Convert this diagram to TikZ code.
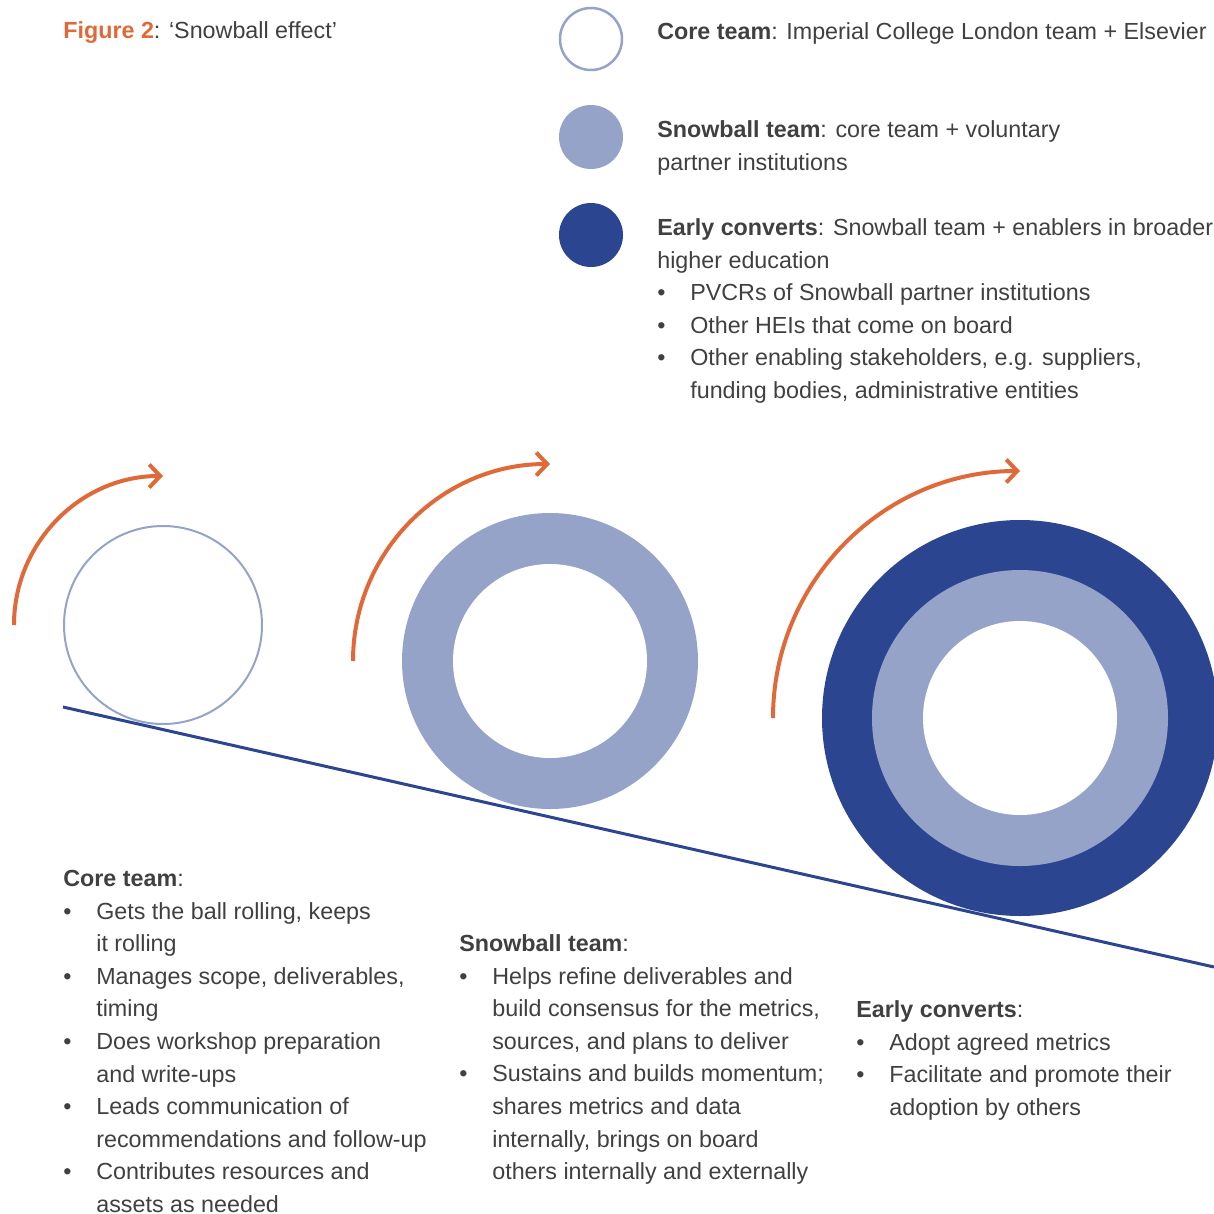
\documentclass[tikz,border=0pt]{standalone}
\usepackage{fontspec}
\setmainfont{Liberation Sans}
\usetikzlibrary{arrows.meta}

\definecolor{snoworange}{HTML}{E0693A}
\definecolor{snowpale}{HTML}{96A3C9}
\definecolor{snowdark}{HTML}{2C4590}
\definecolor{snowtext}{HTML}{404040}

\newcommand{\bul}{\makebox[6.6mm][l]{\textbullet}}
\newcommand{\ind}{\hspace*{6.6mm}}

\tikzset{
    blurb/.style={anchor=north west, inner sep=0pt, align=left, text=snowtext,
                  font=\fontsize{13.26}{18.55}\selectfont},
    roll/.style={snoworange, line width=0.08cm,
                 -{Straight Barb[length=2.2mm,width=4.6mm]}},
    slope/.style={snowdark, line width=0.06cm}
}

\begin{document}
\begin{tikzpicture}[x=0.02cm,y=-0.02cm]
        \useasboundingbox (0,0) rectangle (1214,1214);
        \clip (0,0) rectangle (1214,1214);

        \coordinate (ball1) at (163,625);
        \coordinate (ball2) at (550,661);
        \coordinate (ball3) at (1020,718);
        \coordinate (slopetop) at (63,707);
        \coordinate (slopeend) at (1214,967);

        \node [blurb] (title) at (63,15.5)
              {\strut\textbf{\textcolor{snoworange}{Figure 2}}: ‘Snowball effect’};

        \draw [snowpale, line width=0.05cm] (591,39) circle [radius=31];
        \fill [snowpale] (591,137) circle [radius=32];
        \fill [snowdark] (591,235) circle [radius=32];

        \node [blurb] (keycore) at (657,16.3)
              {\strut\textbf{Core team}: Imperial College London team + Elsevier};
        \node [blurb] (keysnow) at (657,114.3)
              {\strut\textbf{Snowball team}: core team + voluntary\\
               partner institutions};
        \node [blurb] (keyearly) at (657,212.3)
              {\strut\textbf{Early converts}: Snowball team + enablers in broader\\
               higher education\\
               \bul PVCRs of Snowball partner institutions\\
               \bul Other HEIs that come on board\\
               \bul Other enabling stakeholders, e.g. suppliers,\\
               \ind funding bodies, administrative entities};

        \draw [snowpale, line width=0.04cm] (ball1) circle [radius=99];
        \fill [snowpale] (ball2) circle [radius=148];
        \fill [white] (ball2) circle [radius=97];
        \fill [snowdark] (ball3) circle [radius=198];
        \fill [snowpale] (ball3) circle [radius=148];
        \fill [white] (ball3) circle [radius=97];

        \draw [slope] (slopetop) -- (slopeend);

        \draw [roll] ([shift={(180:149)}]ball1) arc [start angle=180, end angle=270, radius=149];
        \draw [roll] ([shift={(180:197)}]ball2) arc [start angle=180, end angle=270, radius=197];
        \draw [roll] ([shift={(180:247)}]ball3) arc [start angle=180, end angle=270, radius=247];

        \node [blurb] (corelist) at (63,863.3)
              {\strut\textbf{Core team}:\\
               \bul Gets the ball rolling, keeps\\
               \ind it rolling\\
               \bul Manages scope, deliverables,\\
               \ind timing\\
               \bul Does workshop preparation\\
               \ind and write-ups\\
               \bul Leads communication of\\
               \ind recommendations and follow-up\\
               \bul Contributes resources and\\
               \ind assets as needed};
        \node [blurb] (snowlist) at (459,928.3)
              {\strut\textbf{Snowball team}:\\
               \bul Helps refine deliverables and\\
               \ind build consensus for the metrics,\\
               \ind sources, and plans to deliver\\
               \bul Sustains and builds momentum;\\
               \ind shares metrics and data\\
               \ind internally, brings on board\\
               \ind others internally and externally};
        \node [blurb] (earlylist) at (856,994.3)
              {\strut\textbf{Early converts}:\\
               \bul Adopt agreed metrics\\
               \bul Facilitate and promote their\\
               \ind adoption by others};
    \end{tikzpicture}
\end{document}
